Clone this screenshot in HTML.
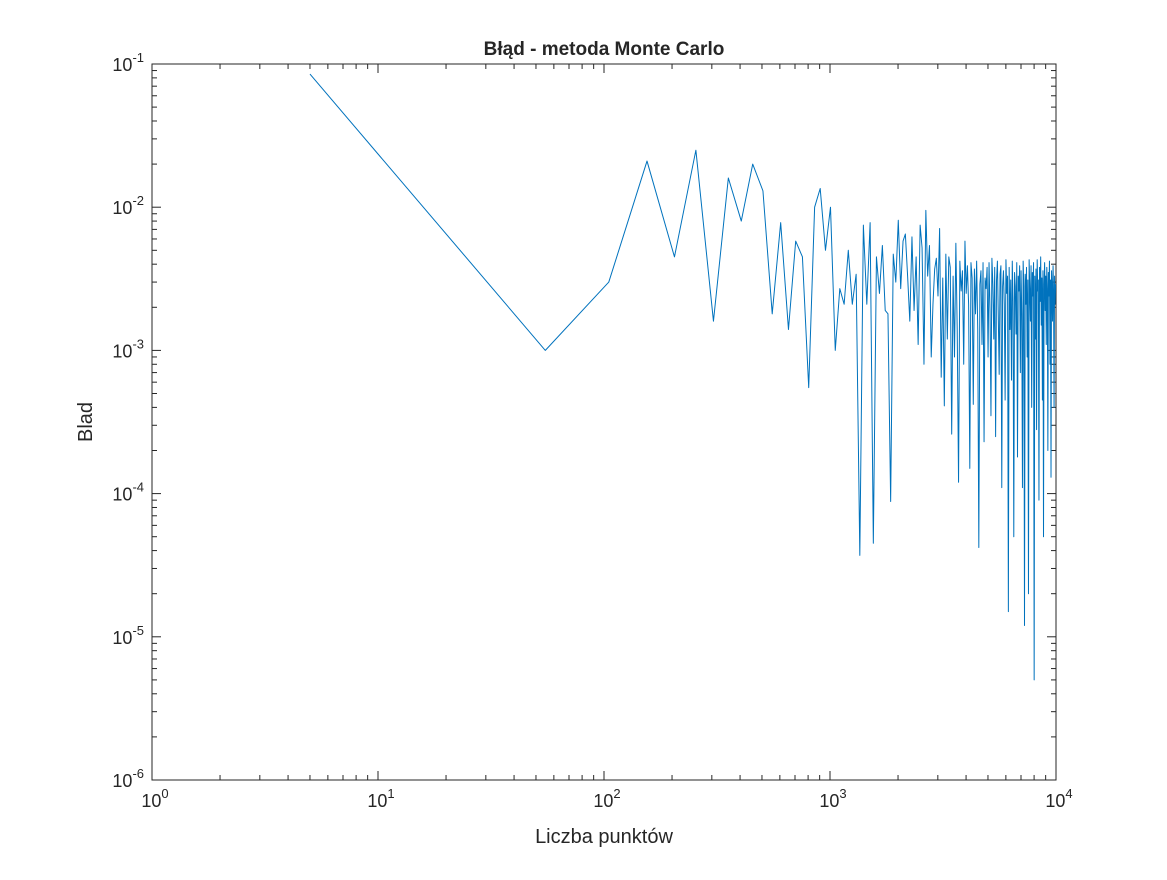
<!DOCTYPE html>
<html><head><meta charset="utf-8"><style>
body{margin:0;background:#fff;}
svg text{font-family:"Liberation Sans",sans-serif;fill:#262626;}
</style></head><body>
<svg id="chart" width="1167" height="875" xmlns="http://www.w3.org/2000/svg">
<rect width="1167" height="875" fill="#fff"/>
<g id="g"></g>
</svg>
<script>
const xStart = 5, xStep = 50;
const errors = [0.085,0.001,0.003,0.021,0.0045,0.025,0.0016,0.016,0.008,0.02,0.013,0.0018,0.0078,0.0014,0.0058,0.0045,0.00055,0.01,0.0135,0.005,0.01,
0.001,0.0027,0.0021,0.005,0.0021,0.0034,0.000037,0.0075,0.0021,0.0078,0.000045,0.0045,0.0025,0.0054,0.0019,0.0018,0.000088,0.0047,0.003,0.0081,
0.0027,0.0058,0.0065,0.0033,0.0016,0.0062,0.0019,0.0045,0.0011,0.0075,0.0052,0.0008,0.0095,0.0033,0.0054,0.0009,0.0021,0.0037,0.0044,0.0024,
0.0071,0.00065,0.0032,0.00041,0.0047,0.0012,0.0045,0.0038,0.00026,0.0033,0.0009,0.0056,0.0014,0.00012,0.0042,0.0026,0.0036,0.0008,0.0058,0.0025,
0.0039,0.0021,0.00015,0.0041,0.0032,0.00042,0.0037,0.0018,0.0042,0.0014,0.000042,0.0029,0.0036,0.0011,0.0041,0.00023,0.0032,0.0027,0.0038,0.0009,
0.0041,0.0019,0.00035,0.0044,0.0029,0.0012,0.0038,0.00025,0.0031,0.0042,0.0017,0.00068,0.0034,0.0039,0.00011,0.0028,0.0036,0.0021,0.00045,0.0043,0.0025,0.0033,0.000015,0.0038,0.0014,0.0031,0.00062,0.0042,0.0022,0.00005,0.0035,0.0028,0.0013,0.0041,0.00018,0.0033,0.0026,0.0039,0.0007,0.0036,
0.0018,0.00011,0.0042,0.0028,0.000012,0.0034,0.0021,0.0038,0.0009,0.0031,0.00002,0.0043,0.0027,0.0016,0.0039,0.0004,0.0035,0.0024,0.0041,0.000005,0.0033,0.0012,0.0037,0.00028,0.0043,0.0026,0.0031,0.00009,0.0038,0.0022,0.0045,0.0015,0.0032,0.00045,0.0036,0.00005,0.0029,0.0041,0.0019,0.0033,0.0011,0.0038,0.0027,0.0002,0.0035,0.0024,0.0042,0.0008,0.0031,0.00013,0.0036,0.0028,0.0016,0.0039,0.0025,0.0004,0.0033,0.0021,0.0029];
const xTickExp = [0,1,2,3,4];
const yTickExp = [-6,-5,-4,-3,-2,-1];

const L=152,R=1056,T=64,B=780;
const xmin=0,xmax=4,ymin=-6,ymax=-1;
const sx=v=>L+(Math.log10(v)-xmin)/(xmax-xmin)*(R-L);
const sy=v=>B-(Math.log10(v)-ymin)/(ymax-ymin)*(B-T);
const NS="http://www.w3.org/2000/svg";
const g=document.getElementById('g');
function mk(t,a,p){const e=document.createElementNS(NS,t);for(const k in a)e.setAttribute(k,a[k]);(p||g).appendChild(e);return e;}

// box
const box=mk('rect',{x:L,y:T,width:R-L,height:B-T,fill:'none',stroke:'#262626','stroke-width':1});



// x ticks
for(let d=xmin;d<=xmax;d++){
  for(let m=1;m<=9;m++){
    if(d===xmax&&m>1)break;
    const x=sx(m*Math.pow(10,d));const len=m===1?9:5;
    const t1=mk('line',{x1:x,x2:x,y1:B,y2:B-len,stroke:'#262626'});
    
    
    const t2=mk('line',{x1:x,x2:x,y1:T,y2:T+len,stroke:'#262626'});
    
    
  }
}
xTickExp.forEach(e=>{
  const x=sx(Math.pow(10,e));
  const t=mk('text',{x:x+3,y:B+27,'font-size':18,'text-anchor':'middle'});
  
  
  t.innerHTML='10<tspan dy="-9" font-size="13">'+e+'</tspan>';
});
// y ticks
for(let d=ymin;d<=ymax;d++){
  for(let m=1;m<=9;m++){
    if(d===ymax&&m>1)break;
    const y=sy(m*Math.pow(10,d));const len=m===1?9:5;
    const t1=mk('line',{x1:L,x2:L+len,y1:y,y2:y,stroke:'#262626'});
    
    
    const t2=mk('line',{x1:R,x2:R-len,y1:y,y2:y,stroke:'#262626'});
    
    
  }
}
yTickExp.forEach(e=>{
  const y=sy(Math.pow(10,e));
  const t=mk('text',{x:L-8,y:y+7,'font-size':18,'text-anchor':'end'});
  
  
  t.innerHTML='10<tspan dy="-9" font-size="13">'+e+'</tspan>';
});

// series
const pts=errors.map((v,i)=>sx(xStart+i*xStep).toFixed(2)+','+sy(v).toFixed(2)).join(' ');
const line=mk('polyline',{points:pts,fill:'none',stroke:'#0072BD','stroke-width':1,'stroke-linejoin':'round'});



// labels
const ti=mk('text',{x:604,y:55,'font-size':19,'font-weight':'bold','text-anchor':'middle',fill:'#000'});


ti.textContent='Błąd - metoda Monte Carlo';
const xl=mk('text',{x:604,y:843,'font-size':20,'text-anchor':'middle'});


xl.textContent='Liczba punktów';
const yl=mk('text',{x:0,y:0,'font-size':20,'text-anchor':'middle',transform:'translate(92,422) rotate(-90)'});


yl.textContent='Blad';
</script>
</body></html>
